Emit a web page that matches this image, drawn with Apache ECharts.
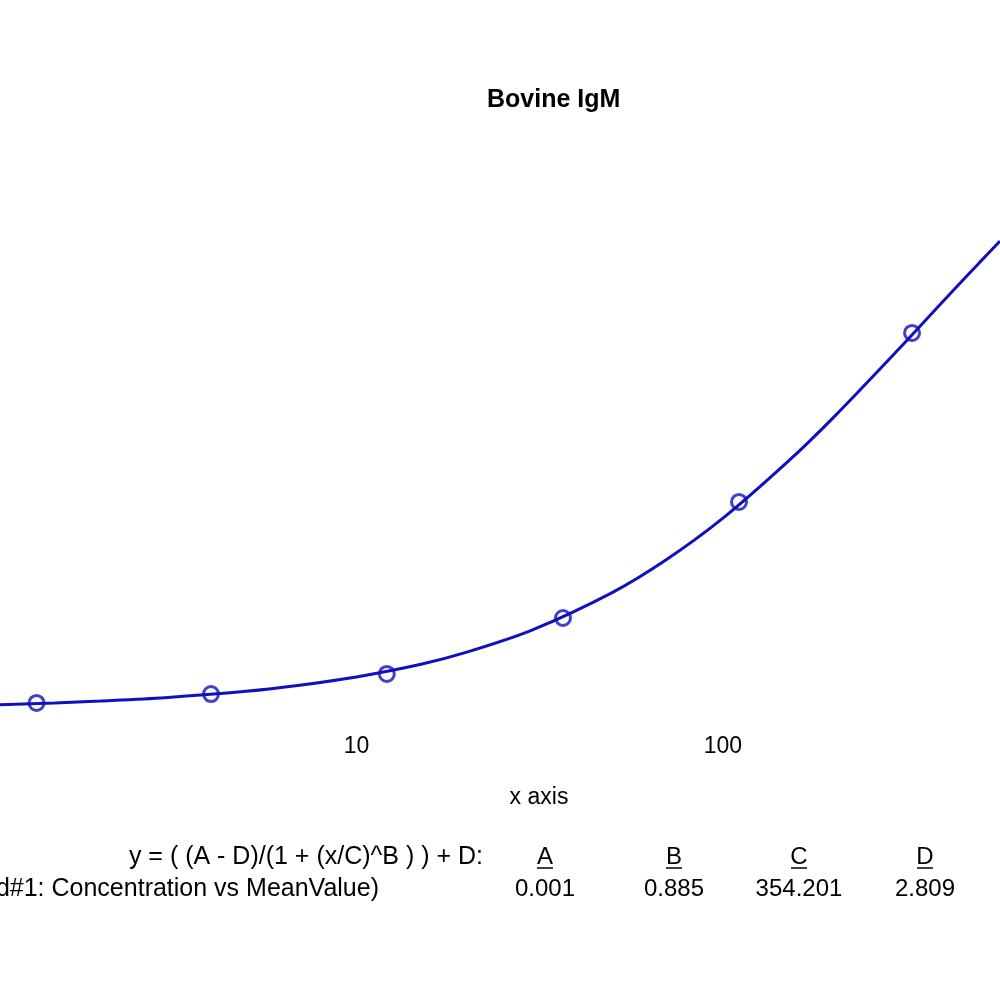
<!DOCTYPE html>
<html>
<head>
<meta charset="utf-8">
<script src="https://cdn.jsdelivr.net/npm/echarts@6/dist/echarts.min.js"></script>
<style>
html,body{margin:0;padding:0;background:#fff;}
#chart{width:1000px;height:1000px;}
</style>
</head>
<body>
<div id="chart"></div>
<script>
// Measured points (Concentration vs MeanValue)
var pointX = [1.34, 4.01, 12.1, 36.6, 110.6, 328];
var pointY = [0.022, 0.054, 0.127, 0.33, 0.751, 1.364];
// Fitted curve
var curveX = [1.065, 1.5, 2, 3, 5, 7, 10, 15, 20, 30, 50, 70, 100, 150, 200, 300, 400, 500, 570];
var curveY = [0.015, 0.022, 0.029, 0.041, 0.064, 0.086, 0.116, 0.162, 0.206, 0.285, 0.423, 0.541, 0.692, 0.896, 1.057, 1.302, 1.481, 1.618, 1.697];
// Fit parameters
var paramNames = ['A', 'B', 'C', 'D'];
var paramValues = ['0.001', '0.885', '354.201', '2.809'];
var titleText = 'Bovine IgM';
var formulaText = 'y = ( (A - D)/(1 + (x/C)^B ) ) + D:';
var curveLabel = 'd#1: Concentration vs MeanValue)';
var xName = 'x axis';

var blue = '#1010c0';
var font = 'Arial, "Liberation Sans", sans-serif';
var paramCx = [545, 674, 799, 925];

var chart = echarts.init(document.getElementById('chart'));
var graphics = [];
graphics.push({type:'text', x:483, y:857, style:{text:formulaText, font:'25px ' + font, fill:'#000', textAlign:'right', textVerticalAlign:'middle'}});
graphics.push({type:'text', x:379, y:889, style:{text:curveLabel, font:'25px ' + font, fill:'#000', textAlign:'right', textVerticalAlign:'middle'}});
for (var i = 0; i < paramNames.length; i++) {
  graphics.push({type:'text', x:paramCx[i], y:857, style:{text:paramNames[i], font:'24px ' + font, fill:'#000', textAlign:'center', textVerticalAlign:'middle'}});
  graphics.push({type:'line', shape:{x1:paramCx[i]-8, y1:868, x2:paramCx[i]+8, y2:868}, style:{stroke:'#000', lineWidth:1.5}});
  graphics.push({type:'text', x:paramCx[i], y:889, style:{text:paramValues[i], font:'24px ' + font, fill:'#000', textAlign:'center', textVerticalAlign:'middle'}});
}

chart.setOption({
  backgroundColor:'#fff',
  animation:false,
  title:{text:titleText, left:487, top:88, padding:0, textStyle:{fontFamily:font, fontSize:25, fontWeight:'bold', color:'#000'}},
  grid:{left:0, right:0, top:19.75, bottom:273.1},
  xAxis:{
    type:'log', logBase:10, min:1.065, max:570,
    axisLine:{show:false}, axisTick:{show:false}, splitLine:{show:false},
    axisLabel:{showMinLabel:false, showMaxLabel:false, margin:8, color:'#000', fontSize:23, fontFamily:font},
    name:xName, nameLocation:'middle', nameGap:59,
    nameTextStyle:{color:'#000', fontSize:23, fontFamily:font, padding:[0,0,0,78]}
  },
  yAxis:{type:'value', min:-0.065, max:2.5, show:false},
  series:[
    {type:'line', data:curveX.map(function(x,i){return [x, curveY[i]];}), smooth:0.3, showSymbol:false, lineStyle:{color:blue, width:3}, z:2},
    {type:'scatter', data:pointX.map(function(x,i){return [x, pointY[i]];}), symbol:'circle', symbolSize:15, itemStyle:{color:'rgba(255,255,255,0)', borderColor:blue, borderWidth:3}, z:3}
  ],
  graphic:graphics
});
</script>
</body>
</html>
